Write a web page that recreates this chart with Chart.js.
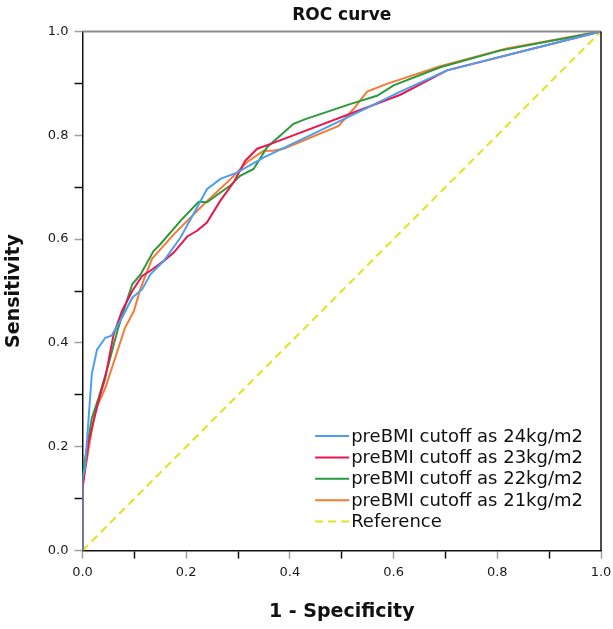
<!DOCTYPE html>
<html>
<head>
<meta charset="utf-8">
<title>ROC curve</title>
<script src="https://cdn.jsdelivr.net/npm/chart.js@4.4.1/dist/chart.umd.min.js"></script>
<style>
  html, body { margin: 0; padding: 0; background: #fff; }
  #wrap { width: 613px; height: 629px; }
</style>
</head>
<body>
<div id="wrap"><canvas id="chart"></canvas></div>
<script>
/* Legend / series names */
var seriesNames = [
    'preBMI cutoff as 24kg/m2',
    'preBMI cutoff as 23kg/m2',
    'preBMI cutoff as 22kg/m2',
    'preBMI cutoff as 21kg/m2',
    'Reference'
];

/* ROC points: [1 - specificity, sensitivity] */
var roc24 = [[0,0],[0,0.14],[0.005,0.16],[0.018,0.34],[0.028,0.387],[0.044,0.41],[0.056,0.414],
    [0.076,0.448],[0.096,0.487],[0.115,0.503],[0.131,0.532],[0.157,0.558],[0.189,0.603],
    [0.221,0.661],[0.24,0.696],[0.266,0.716],[0.298,0.728],[0.349,0.757],[0.45,0.805],
    [0.55,0.853],[0.613,0.884],[0.703,0.925],[1,1]];
var roc23 = [[0,0],[0,0.12],[0.002,0.133],[0.012,0.21],[0.031,0.288],[0.044,0.333],[0.06,0.416],
    [0.076,0.461],[0.096,0.5],[0.115,0.529],[0.131,0.539],[0.157,0.558],[0.176,0.574],
    [0.202,0.605],[0.221,0.616],[0.24,0.632],[0.266,0.674],[0.292,0.71],[0.314,0.751],
    [0.337,0.774],[0.362,0.783],[0.613,0.878],[0.703,0.925],[1,1]];
var roc22 = [[0,0],[0,0.13],[0.002,0.159],[0.018,0.255],[0.031,0.294],[0.05,0.358],[0.069,0.429],
    [0.082,0.47],[0.096,0.513],[0.112,0.532],[0.137,0.577],[0.15,0.59],[0.189,0.635],
    [0.224,0.672],[0.24,0.671],[0.285,0.703],[0.304,0.722],[0.33,0.735],[0.356,0.777],
    [0.407,0.822],[0.43,0.831],[0.516,0.86],[0.568,0.876],[0.6,0.896],[0.69,0.931],
    [0.805,0.963],[1,1]];
var roc21 = [[0,0],[0,0.12],[0.002,0.14],[0.008,0.172],[0.024,0.268],[0.044,0.313],[0.063,0.371],
    [0.082,0.429],[0.099,0.461],[0.112,0.505],[0.134,0.562],[0.176,0.609],[0.234,0.667],
    [0.285,0.715],[0.317,0.748],[0.349,0.77],[0.368,0.77],[0.388,0.774],[0.494,0.818],
    [0.523,0.851],[0.549,0.884],[0.587,0.899],[0.69,0.933],[0.818,0.967],[1,1]];
var refLine = [[0,0],[1,1]];

/* Axis ticks: every 0.1, labelled every 0.2 */
var axisTicks = [0, 0.1, 0.2, 0.3, 0.4, 0.5, 0.6, 0.7, 0.8, 0.9, 1.0];
var tickLabels = ['0.0', '', '0.2', '', '0.4', '', '0.6', '', '0.8', '', '1.0'];

var colors = ['#4c9ef2', '#e8174f', '#2a9a3c', '#f57a35', '#e2e21e'];
var FONT = "'DejaVu Sans', sans-serif";

function toXY(arr) {
    return arr.map(function(p) { return {x: p[0], y: p[1]}; });
}

function tickIndex(v) {
    return Math.round(v * 10);
}

/* Frame: top grey rule and right black rule (left/bottom come from the axes) */
var framePlugin = {
    id: 'frame',
    afterDatasetsDraw: function(chart) {
	var a = chart.chartArea, c = chart.ctx;
	c.save();
	c.lineWidth = 2;
	c.strokeStyle = '#8c8c8c';
	c.beginPath(); c.moveTo(a.left, a.top); c.lineTo(a.right, a.top); c.stroke();
	c.lineWidth = 1.5;
	c.strokeStyle = '#111';
	c.beginPath(); c.moveTo(a.right, a.top); c.lineTo(a.right, a.bottom); c.stroke();
	c.restore();
    }
};

/* Legend drawn inside the plot, bottom right, like SPSS does */
var innerLegend = {
    id: 'innerLegend',
    afterDatasetsDraw: function(chart) {
	var a = chart.chartArea, c = chart.ctx;
	var ds = chart.data.datasets;
	c.save();
	c.font = '18px ' + FONT;
	var maxW = 0;
	ds.forEach(function(d) { maxW = Math.max(maxW, c.measureText(d.label).width); });
	var textX = a.right - 18 - maxW;
	var rowH = 21.4;
	var lastY = a.bottom - 29;
	ds.forEach(function(d, i) {
	    var y = lastY - (ds.length - 1 - i) * rowH;
	    c.strokeStyle = d.borderColor;
	    c.lineWidth = d.borderWidth;
	    c.setLineDash(d.borderDash || []);
	    c.beginPath(); c.moveTo(textX - 36, y); c.lineTo(textX - 2, y); c.stroke();
	    c.setLineDash([]);
	    c.fillStyle = '#111';
	    c.textBaseline = 'middle';
	    c.textAlign = 'left';
	    c.fillText(d.label, textX, y + 1);
	});
	c.restore();
    }
};

function makeSeries(name, pts, color, dash) {
    return {
	label: name,
	data: toXY(pts),
	showLine: true,
	borderColor: color,
	backgroundColor: color,
	borderWidth: 2,
	borderDash: dash || [],
	pointRadius: 0,
	tension: 0,
	fill: false
    };
}

function axisOptions(titleText, titlePad) {
    return {
	type: 'linear',
	min: 0,
	max: 1,
	afterBuildTicks: function(scale) {
	    scale.ticks = axisTicks.map(function(v) { return {value: v}; });
	},
	/* let the last x label hang past the plot edge, as in the original */
	afterFit: function(scale) {
	    if (scale.isHorizontal()) { scale.paddingRight = 0; }
	},
	ticks: {
	    autoSkip: false,
	    maxRotation: 0,
	    color: '#1a1a1a',
	    padding: 6,
	    font: {family: FONT, size: 13},
	    callback: function(v) { return tickLabels[tickIndex(v)]; }
	},
	grid: {
	    drawOnChartArea: false,
	    drawTicks: true,
	    tickLength: 8,
	    tickWidth: 1.5,
	    tickColor: function(ctx) {
		return (tickIndex(ctx.tick.value) % 2 === 0) ? '#a0a0a0' : '#111';
	    }
	},
	border: {display: true, color: '#111', width: 1.5},
	title: {
	    display: true,
	    text: titleText,
	    color: '#111',
	    font: {family: FONT, size: 19, weight: 'bold'},
	    padding: titlePad
	}
    };
}

var ctx = document.getElementById('chart');
var chart = new Chart(ctx, {
    type: 'scatter',
    data: {
	datasets: [
	    makeSeries(seriesNames[0], roc24, colors[0]),
	    makeSeries(seriesNames[1], roc23, colors[1]),
	    makeSeries(seriesNames[2], roc22, colors[2]),
	    makeSeries(seriesNames[3], roc21, colors[3]),
	    makeSeries(seriesNames[4], refLine, colors[4], [8, 5])
	]
    },
    options: {
	responsive: true,
	maintainAspectRatio: false,
	animation: false,
	layout: {padding: {left: 3, right: 12, top: 5, bottom: 6}},
	plugins: {
	    legend: {display: false},
	    tooltip: {enabled: false},
	    title: {
		display: true,
		text: 'ROC curve',
		color: '#111',
		fullSize: false,
		font: {family: FONT, size: 17, weight: 'bold'},
		padding: {top: 0, bottom: 6}
	    }
	},
	scales: {
	    x: axisOptions('1 - Specificity', {top: 14, bottom: 0}),
	    y: axisOptions('Sensitivity', {top: 0, bottom: 16})
	}
    },
    plugins: [framePlugin, innerLegend]
});
</script>
</body>
</html>
